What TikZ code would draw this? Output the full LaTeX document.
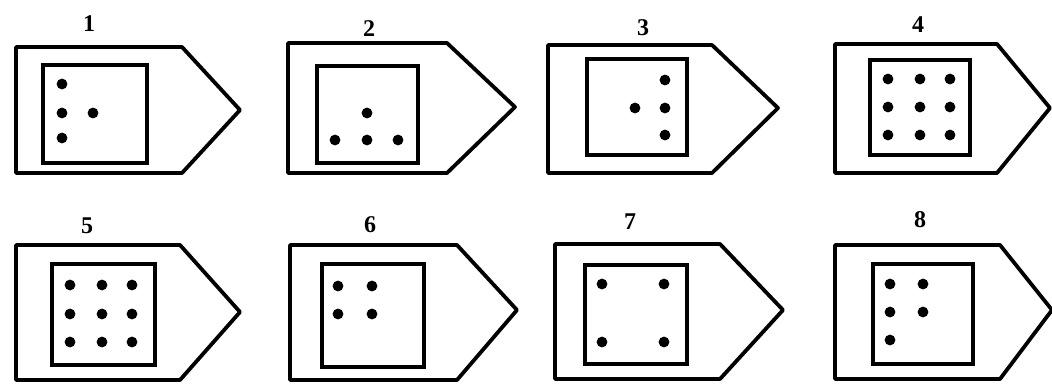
\documentclass[tikz,border=0pt]{standalone}
\usepackage{fontspec}
\setmainfont{Liberation Serif}
\begin{document}
\begin{tikzpicture}[x=1pt,y=-1pt,
  outer/.style={line width=3.8pt,line join=round},
  innerbox/.style={line width=3.8pt,line join=miter},
  lbl/.style={inner sep=0pt,font=\fontsize{24}{24}\selectfont\bfseries},
  spot/.style={fill=black}]
\useasboundingbox[fill=white] (0,0) rectangle (1052,384);
% panel: L T B C tip mid
\newcommand{\mypanel}[6]{%
  \draw[outer] (#1,#2) -- (#4,#2) -- (#5,#6) -- (#4,#3) -- (#1,#3) -- cycle;}
\newcommand{\mydot}[2]{\fill[spot] (#1,#2) circle[radius=5.4pt];}
% ---- panel 1
\mypanel{16}{47}{173}{182}{240}{110}
\draw[innerbox] (43,65) rectangle (147,163);
\mydot{62}{84}\mydot{62}{113}\mydot{93}{113}\mydot{62}{138}
\node[lbl] (l1) at (89,24) {1};
% ---- panel 2
\mypanel{288}{43}{173}{447}{515}{107}
\draw[innerbox] (317,66) rectangle (418,163);
\mydot{367}{113}\mydot{335}{140}\mydot{367}{140}\mydot{398}{140}
\node[lbl] (l2) at (369,29) {2};
% ---- panel 3
\mypanel{548}{45}{173}{712}{778}{108}
\draw[innerbox] (587,59) rectangle (687,155);
\mydot{665}{80}\mydot{665}{108}\mydot{665}{135}\mydot{635}{108}
\node[lbl] (l3) at (643,28) {3};
% ---- panel 4
\mypanel{835}{44}{173}{997}{1050}{108}
\draw[innerbox] (870,60) rectangle (970,155);
\foreach \xx in {888,920,950}{\foreach \yy in {79,107,135}{\mydot{\xx}{\yy}}}
\node[lbl] (l4) at (918,25) {4};
% ---- panel 5
\mypanel{16}{245}{380}{180}{240}{312}
\draw[innerbox] (52,264) rectangle (155,365);
\foreach \xx in {70,102,132}{\foreach \yy in {285,314,342}{\mydot{\xx}{\yy}}}
\node[lbl] (l5) at (87,226) {5};
% ---- panel 6
\mypanel{290}{245}{380}{457}{517}{310}
\draw[innerbox] (322,264) rectangle (424,367);
\mydot{338}{286}\mydot{372}{286}\mydot{338}{314}\mydot{372}{314}
\node[lbl] (l6) at (370,225) {6};
% ---- panel 7
\mypanel{555}{244}{379}{720}{783}{310}
\draw[innerbox] (585,265) rectangle (687,364);
\mydot{602}{284}\mydot{664}{284}\mydot{602}{342}\mydot{664}{342}
\node[lbl] (l7) at (630,222) {7};
% ---- panel 8
\mypanel{835}{245}{379}{1000}{1052}{310}
\draw[innerbox] (873,264) rectangle (973,364);
\mydot{890}{284}\mydot{923}{284}\mydot{890}{312}\mydot{923}{312}\mydot{890}{340}
\node[lbl] (l8) at (920,220) {8};
\end{tikzpicture}
\end{document}
